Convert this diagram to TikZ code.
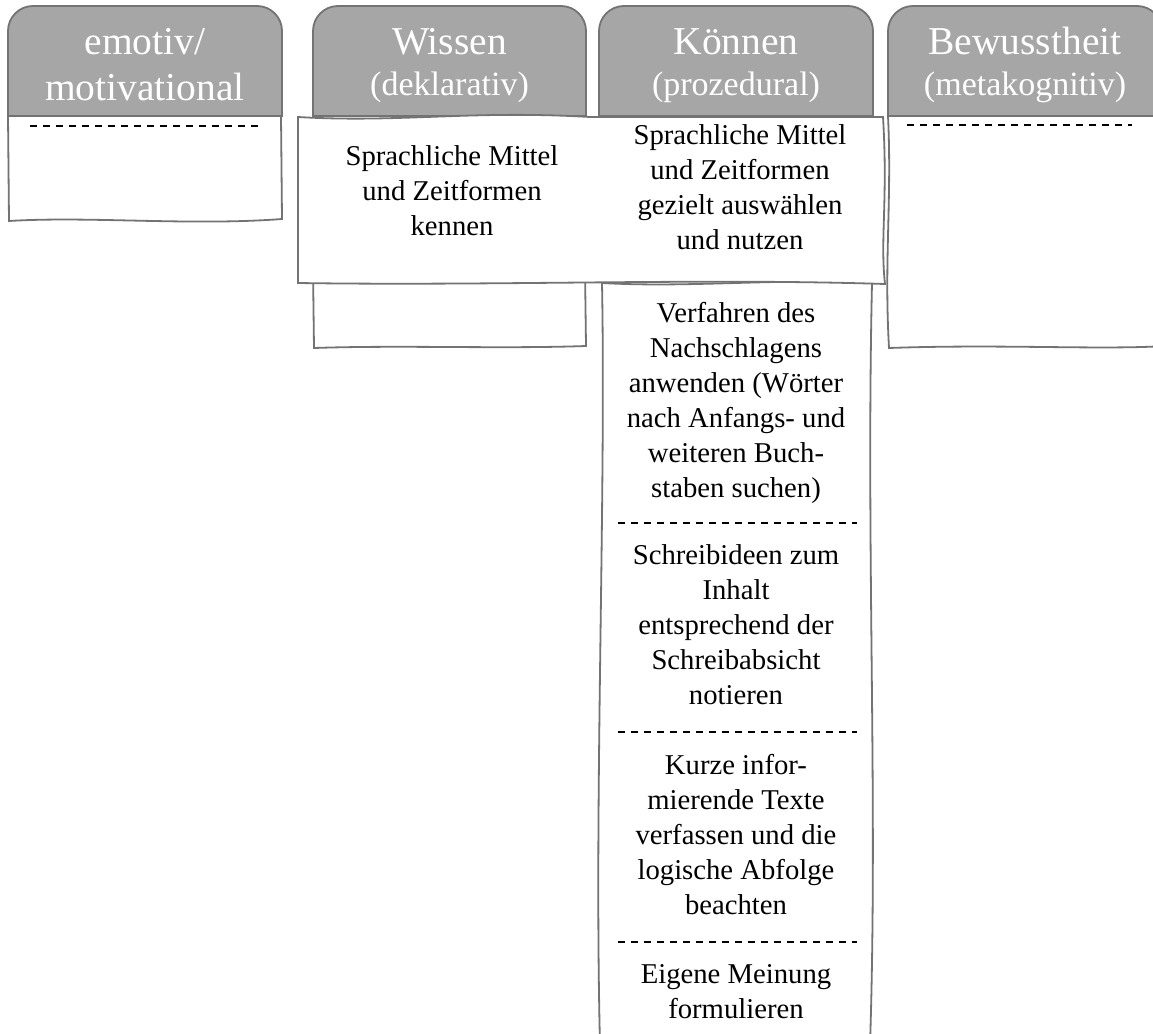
\documentclass[tikz,border=0pt]{standalone}
\usepackage{fontspec}
\setmainfont{Liberation Serif}
\usepackage{tikz}

\definecolor{kopfgrau}{RGB}{166,166,166}
\definecolor{rahmengrau}{RGB}{115,115,115}

\begin{document}
\begin{tikzpicture}[x=1pt,y=1pt,
    kopf/.style={text=white, font=\fontsize{39.5}{45}\selectfont, anchor=base},
    unterkopf/.style={text=white, font=\fontsize{34}{40}\selectfont, anchor=base},
    inhalt/.style={black, font=\fontsize{28.7}{35}\selectfont, align=center, anchor=north},
    trenner/.style={black, line width=1.2, dash pattern=on 7pt off 6pt},
    rahmen/.style={draw=rahmengrau, line width=1.8}]
    \tikzstyle{every node}+=[inner sep=0pt]
    \useasboundingbox (0,0) rectangle (1153,-1033);
    \clip (0,0) rectangle (1153,-1033);
    \fill [white] (0,0) rectangle (1153,-1033);
    % Koepfe
    \filldraw [rahmen, fill=kopfgrau] (8,-116) -- (8,-31) arc (180:90:25) -- (257,-6) arc (90:0:25) -- (282,-116) -- cycle;
    \filldraw [rahmen, fill=kopfgrau] (313,-116) -- (313,-31) arc (180:90:25) -- (561,-6) arc (90:0:25) -- (586,-116) -- cycle;
    \filldraw [rahmen, fill=kopfgrau] (599,-116) -- (599,-31) arc (180:90:25) -- (848,-6) arc (90:0:25) -- (873,-116) -- cycle;
    \filldraw [rahmen, fill=kopfgrau] (888,-116) -- (888,-31) arc (180:90:25) -- (1137,-6) arc (90:0:25) -- (1162,-116) -- cycle;
    % Spalten
    \filldraw [rahmen, fill=white] (8,-116) -- (9,-221) .. controls (90,-216) and (190,-226) .. (282,-219) -- (281,-116) -- cycle;
    \draw [trenner] (30,-126) -- (260,-126);
    \filldraw [rahmen, fill=white] (313,-270) -- (314,-348) .. controls (400,-345) and (500,-349) .. (586,-346) -- (585,-270) -- cycle;
    \filldraw [rahmen, fill=white] (602,-283) .. controls (606,-500) and (594,-800) .. (600,-1045) -- (870,-1045) .. controls (878,-800) and (866,-550) .. (872,-283) .. controls (780,-278) and (690,-288) .. (602,-283) -- cycle;
    \filldraw [rahmen, fill=white] (888,-116) .. controls (892,-200) and (884,-260) .. (889,-348) .. controls (1000,-344) and (1100,-350) .. (1165,-346) -- (1165,-116) -- cycle;
    \draw [trenner] (907,-125) -- (1132,-125);
    \filldraw [rahmen, fill=white] (298,-117) .. controls (400,-123) and (470,-110) .. (590,-117) -- (883,-117) .. controls (888,-200) and (880,-240) .. (885,-284) .. controls (700,-278) and (500,-286) .. (298,-283) -- cycle;
    \draw [trenner] (618,-523) -- (857,-523);
    \draw [trenner] (618,-732) -- (857,-732);
    \draw [trenner] (618,-942) -- (857,-942);
    % Texte
    \node [kopf] (emotiv) at (145,-55) {emotiv/};
    \node [kopf] (motivational) at (145,-100) {motivational};
    \node [kopf] (wissen) at (449.5,-55) {Wissen};
    \node [unterkopf] (deklarativ) at (449.5,-95) {(deklarativ)};
    \node [kopf] (koennen) at (736,-55) {Können};
    \node [unterkopf] (prozedural) at (736,-95) {(prozedural)};
    \node [kopf] (bewusstheit) at (1025,-55) {Bewusstheit};
    \node [unterkopf] (metakognitiv) at (1025,-95) {(metakognitiv)};
    \node [inhalt] (kennen) at (452,-145.3) {Sprachliche Mittel\\und Zeitformen\\kennen};
    \node [inhalt] (nutzen) at (740,-124.3) {Sprachliche Mittel\\und Zeitformen\\gezielt auswählen\\und nutzen};
    \node [inhalt] (nachschlagen) at (736,-302.3) {Verfahren des\\Nachschlagens\\anwenden (Wörter\\nach Anfangs- und\\weiteren Buch-\\staben suchen)};
    \node [inhalt] (schreibideen) at (736,-544.3) {Schreibideen zum\\Inhalt\\entsprechend der\\Schreibabsicht\\notieren};
    \node [inhalt] (texte) at (736,-754.3) {Kurze infor-\\mierende Texte\\verfassen und die\\logische Abfolge\\beachten};
    \node [inhalt] (meinung) at (736,-964.3) {Eigene Meinung\\formulieren};
\end{tikzpicture}
\end{document}
